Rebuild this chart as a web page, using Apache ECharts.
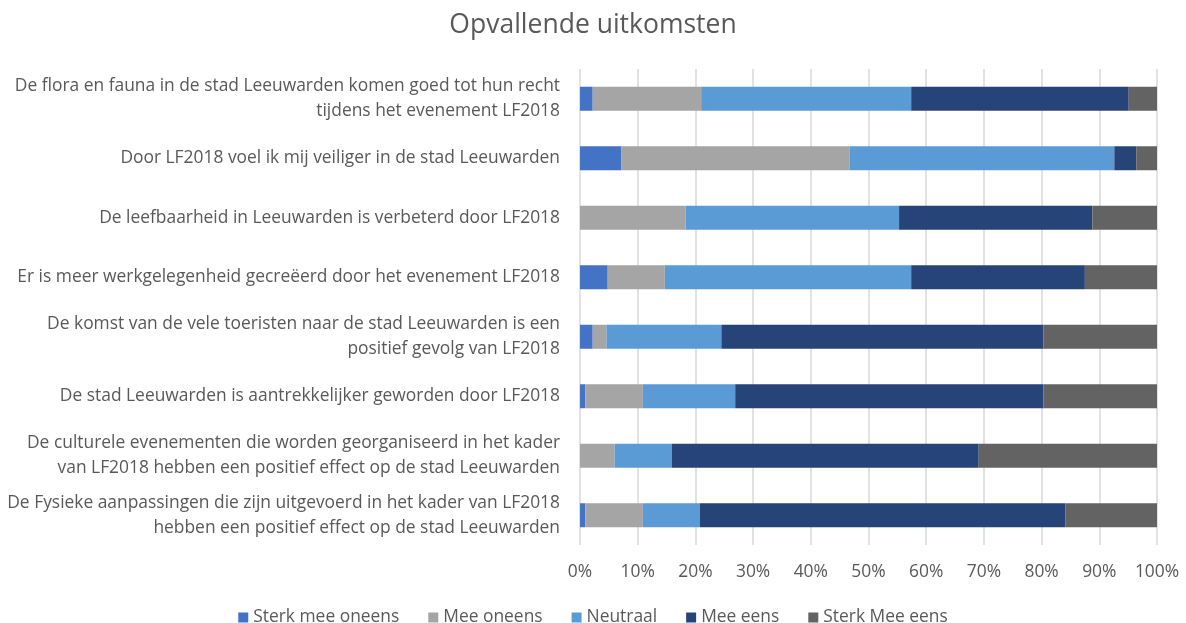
<!DOCTYPE html>
<html>
<head>
<meta charset="utf-8">
<script src="https://cdn.jsdelivr.net/npm/echarts@6/dist/echarts.min.js"></script>
<style>
  html, body { margin: 0; padding: 0; background: #fff; }
  #chart { width: 1186px; height: 623px; }
</style>
</head>
<body>
<div id="chart"></div>
<script>
  // categories, top to bottom
  const statements = [
    'De flora en fauna in de stad Leeuwarden komen goed tot hun recht\ntijdens het evenement LF2018',
    'Door LF2018 voel ik mij veiliger in de stad Leeuwarden',
    'De leefbaarheid in Leeuwarden is verbeterd door LF2018',
    'Er is meer werkgelegenheid gecreëerd door het evenement LF2018',
    'De komst van de vele toeristen naar de stad Leeuwarden is een\npositief gevolg van LF2018',
    'De stad Leeuwarden is aantrekkelijker geworden door LF2018',
    'De culturele evenementen die worden georganiseerd in het kader\nvan LF2018 hebben een positief effect op de stad Leeuwarden',
    'De Fysieke aanpassingen die zijn uitgevoerd in het kader van LF2018\nhebben een positief effect op de stad Leeuwarden',
  ];

  // percentages per answer
  const sterkOneens = [2.2, 7.2, 0, 4.8, 2.2, 0.9, 0, 0.9];
  const meeOneens = [18.8, 39.5, 18.3, 9.9, 2.4, 10.0, 6.0, 10.0];
  const neutraal = [36.4, 45.9, 37.0, 42.7, 19.9, 16.0, 9.9, 9.9];
  const meeEens = [37.7, 3.8, 33.5, 30.1, 55.8, 53.4, 53.2, 63.3];
  const sterkEens = [4.9, 3.6, 11.2, 12.5, 19.7, 19.7, 30.9, 15.9];

  const seriesNames = ['Sterk mee oneens', 'Mee oneens', 'Neutraal', 'Mee eens', 'Sterk Mee eens'];
  const seriesColors = ['#4472C4', '#A5A5A5', '#5B9BD5', '#264478', '#636363'];
  const seriesData = [sterkOneens, meeOneens, neutraal, meeEens, sterkEens];

  const textColor = '#595959';
  const font = '"Open Sans", "Noto Sans", sans-serif';

  const myChart = echarts.init(document.getElementById('chart'), null, { renderer: 'canvas' });
  myChart.setOption({
    animation: false,
    textStyle: { fontFamily: font },
    title: {
      text: 'Opvallende uitkomsten',
      left: 'center',
      top: 7,
      textStyle: {
        color: textColor,
        fontSize: 26.5,
        fontWeight: 'normal',
        fontFamily: font,
      },
    },
    legend: {
      data: seriesNames,
      top: 604,
      left: 'center',
      icon: 'rect',
      itemWidth: 10,
      itemHeight: 10,
      itemGap: 29,
      textStyle: { color: textColor, fontSize: 17.4, fontFamily: font },
    },
    grid: {
      left: 580,
      right: 29,
      top: 69,
      bottom: 78,
    },
    xAxis: {
      type: 'value',
      min: 0,
      max: 100,
      interval: 10,
      axisLine: { show: false },
      axisTick: { show: false },
      axisLabel: {
        color: textColor,
        fontSize: 17.4,
        margin: 19,
        formatter: value => `${value}%`,
      },
      splitLine: {
        lineStyle: { color: '#D9D9D9', width: 1.5 },
      },
    },
    yAxis: {
      type: 'category',
      inverse: true,
      data: statements,
      axisLine: { show: false },
      axisTick: { show: false },
      axisLabel: {
        color: textColor,
        fontSize: 17.4,
        lineHeight: 25,
        margin: 20,
        align: 'right',
      },
    },
    series: seriesNames.map((name, i) => ({
      name,
      type: 'bar',
      stack: 'total',
      barWidth: 24,
      data: seriesData[i],
      itemStyle: { color: seriesColors[i] },
    })),
  });
</script>
</body>
</html>
